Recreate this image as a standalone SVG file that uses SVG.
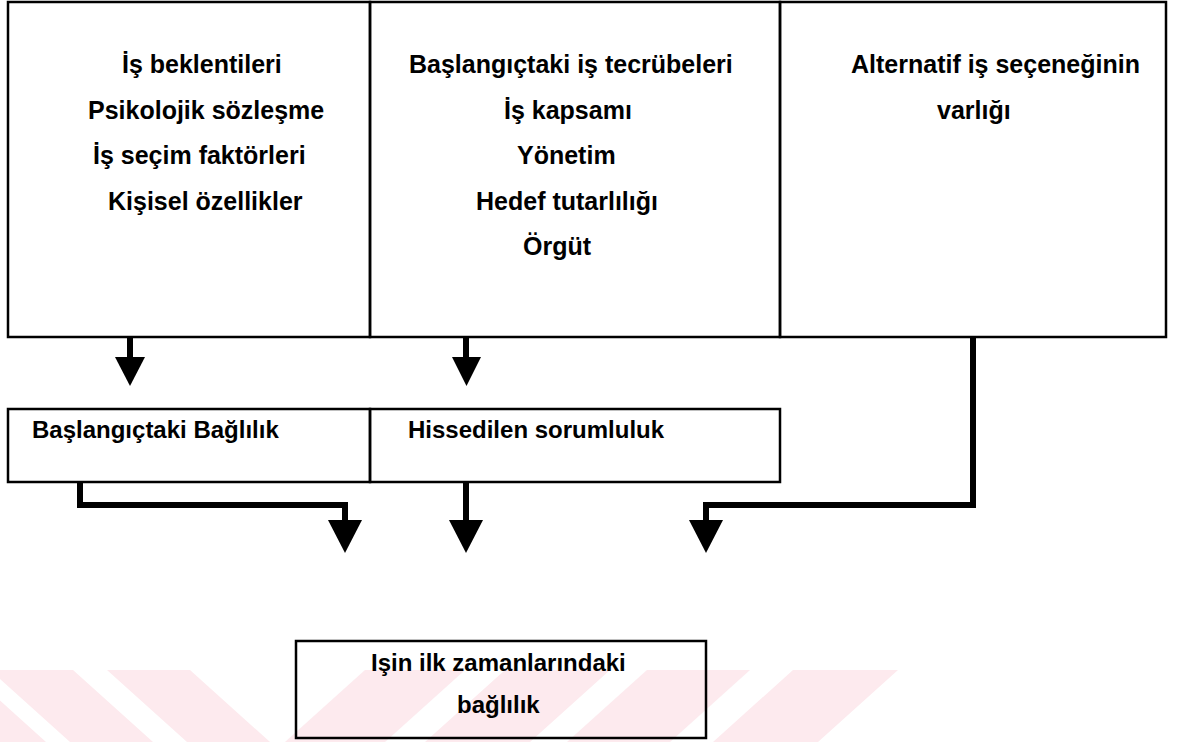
<svg xmlns="http://www.w3.org/2000/svg" width="1181" height="742" viewBox="0 0 1181 742">
<defs>
<style>
.box{fill:none;stroke:#000;stroke-width:2.5}
.t{font-family:"Liberation Sans",Arial,sans-serif;font-weight:bold;fill:#000}
.t25{font-size:25px}
.t24{font-size:24px}
.wire{fill:none;stroke:#000;stroke-width:6;stroke-linejoin:miter;stroke-linecap:butt}
.head{fill:#000}
.wm{fill:#fdeaee}
</style>
</defs>
<rect x="0" y="0" width="1181" height="742" fill="#fff"/>
<g id="watermark">
<polygon class="wm" points="-117,670 -34,670 46,742 -37,742"/>
<polygon class="wm" points="-10,670 73,670 153,742 70,742"/>
<polygon class="wm" points="107,670 190,670 270,742 187,742"/>
<polygon class="wm" points="365,670 465,670 385,742 285,742"/>
<polygon class="wm" points="505,670 610,670 530,742 425,742"/>
<polygon class="wm" points="647,670 750,670 670,742 567,742"/>
<polygon class="wm" points="793,670 898,670 818,742 713,742"/>
</g>
<g id="connectors">
<path class="wire" d="M130,337 V359"/>
<polygon class="head" points="115,357 145,357 130,386"/>
<path class="wire" d="M466,337 V359"/>
<polygon class="head" points="452,357 481,357 466.5,386"/>
<path class="wire" d="M973,337 V505 H706 V522"/>
<polygon class="head" points="689,520 723,520 706,553"/>
<path class="wire" d="M80,482 V505 H345 V522"/>
<polygon class="head" points="328,520 362,520 345,553"/>
<path class="wire" d="M466,482 V522"/>
<polygon class="head" points="449,520 483,520 466,553"/>
</g>
<g id="node-beklentiler">
<rect class="box" x="8" y="2" width="362" height="335"/>
<text class="t t25" x="122" y="73">İş beklentileri</text>
<text class="t t25" x="88" y="118.5">Psikolojik sözleşme</text>
<text class="t t25" x="93" y="164">İş seçim faktörleri</text>
<text class="t t25" x="108" y="209.5">Kişisel özellikler</text>
</g>
<g id="node-tecrubeler">
<rect class="box" x="370" y="2" width="410" height="335"/>
<text class="t t25" x="409" y="73">Başlangıçtaki iş tecrübeleri</text>
<text class="t t25" x="504" y="118.5">İş kapsamı</text>
<text class="t t25" x="517" y="164">Yönetim</text>
<text class="t t25" x="476" y="209.5">Hedef tutarlılığı</text>
<text class="t t25" x="523" y="255">Örgüt</text>
</g>
<g id="node-alternatif">
<rect class="box" x="780" y="2" width="386" height="335"/>
<text class="t t25" x="851" y="73">Alternatif iş seçeneğinin</text>
<text class="t t25" x="937" y="118.5">varlığı</text>
</g>
<g id="node-baglilik">
<rect class="box" x="8" y="409" width="362" height="73"/>
<text class="t t24" x="32" y="438">Başlangıçtaki Bağlılık</text>
</g>
<g id="node-sorumluluk">
<rect class="box" x="370" y="409" width="410" height="73"/>
<text class="t t24" x="408" y="438">Hissedilen sorumluluk</text>
</g>
<g id="node-sonuc">
<rect class="box" x="296" y="641" width="410" height="97"/>
<text class="t t24" x="371" y="671">Işin ilk zamanlarındaki</text>
<text class="t t24" x="457" y="713">bağlılık</text>
</g>
</svg>
